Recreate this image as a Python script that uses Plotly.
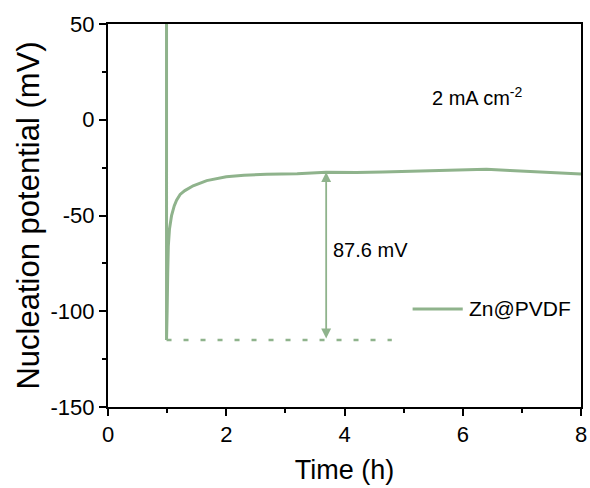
import plotly.graph_objects as go

# Galvanostatic deposition trace of Zn@PVDF at 2 mA cm-2
time_h = [0.99, 0.99, 1.0, 1.01, 1.02, 1.04, 1.075, 1.12, 1.16, 1.22, 1.30, 1.44,
          1.67, 2.0, 2.3, 2.68, 3.2, 3.69, 4.2, 4.65, 5.2, 5.78, 6.06, 6.4,
          6.8, 7.18, 7.6, 7.97, 8.0]
potential_mv = [60, -115.0, -100, -80, -66, -57, -50, -45, -42, -39, -37, -34.5,
                -31.8, -29.8, -29.0, -28.4, -28.2, -27.4, -27.6, -27.3, -26.9, -26.4, -26.0, -25.9,
                -26.5, -27.1, -27.7, -28.2, -28.3]

# Nucleation overpotential: plateau minus the initial dip
nucleation_mv = 87.6
plateau_mv = -27.4
arrow_time = 3.69
dip_mv = plateau_mv - nucleation_mv
baseline_time = [0.99, 4.8]

series_name = "Zn@PVDF"
green = "#8fb38c"
font_family = "Liberation Sans, Arial, sans-serif"

x_ticks = [0, 2, 4, 6, 8]
y_ticks = [-150, -100, -50, 0, 50]
y_tick_labels = ["-150", "-100", "-50", "0", "50"]

fig = go.Figure()

fig.add_trace(go.Scatter(
    x=time_h, y=potential_mv, mode="lines", name=series_name,
    line=dict(color=green, width=3), showlegend=False,
))

# dashed reference at the nucleation dip
fig.add_trace(go.Scatter(
    x=baseline_time, y=[dip_mv, dip_mv], mode="lines",
    line=dict(color=green, width=2.5, dash="5px,12px"), showlegend=False,
))

# double-headed arrow spanning the nucleation overpotential
fig.add_annotation(
    x=arrow_time, y=plateau_mv, ax=arrow_time, ay=dip_mv,
    xref="x", yref="y", axref="x", ayref="y",
    text="", showarrow=True, arrowside="end+start",
    arrowhead=2, startarrowhead=2, arrowsize=1.1, startarrowsize=1.1,
    arrowwidth=1.8, arrowcolor=green, standoff=0, startstandoff=0,
    font=dict(size=1),
)

fig.add_annotation(
    x=arrow_time + 0.08, y=-67.8, xref="x", yref="y",
    text=f"{nucleation_mv} mV", showarrow=False, xanchor="left", yanchor="middle",
    font=dict(family=font_family, size=20, color="black"),
)

fig.add_annotation(
    x=5.45, y=12, xref="x", yref="y",
    text="2 mA cm<sup>-2</sup>", showarrow=False, xanchor="left", yanchor="middle",
    font=dict(family=font_family, size=20, color="black"),
)

# legend entry
fig.add_shape(type="line", xref="paper", yref="paper",
              x0=0.644, x1=0.750, y0=0.256, y1=0.256,
              line=dict(color=green, width=3))
fig.add_annotation(
    x=0.758, y=0.256, xref="paper", yref="paper",
    text=series_name, showarrow=False, xanchor="left", yanchor="middle",
    font=dict(family=font_family, size=21, color="black"),
)

axis_common = dict(
    showline=True, linecolor="black", linewidth=2, mirror=True,
    ticks="outside", ticklen=7, tickwidth=2, tickcolor="black",
    showgrid=False, zeroline=False,
    tickfont=dict(family=font_family, size=22, color="black"),
)

fig.update_xaxes(
    range=[0, 8], tickvals=x_ticks, ticktext=[str(v) for v in x_ticks],
    minor=dict(dtick=1, tick0=0, ticks="outside", ticklen=4, tickwidth=2, tickcolor="black"),
    title=dict(text="Time (h)", standoff=14,
               font=dict(family=font_family, size=27, color="black")),
    automargin=False,
    **axis_common,
)
fig.update_yaxes(
    range=[-150, 50], tickvals=y_ticks, ticktext=y_tick_labels,
    minor=dict(dtick=25, tick0=0, ticks="outside", ticklen=4, tickwidth=2, tickcolor="black"),
    title=dict(text="Nucleation potential (mV)", standoff=2,
               font=dict(family=font_family, size=31, color="black")),
    automargin=False,
    **axis_common,
)

fig.update_layout(
    width=590, height=488,
    margin=dict(l=108, r=9, t=24, b=81),
    paper_bgcolor="white", plot_bgcolor="white",
    showlegend=False,
)

fig.write_html("out.html")
